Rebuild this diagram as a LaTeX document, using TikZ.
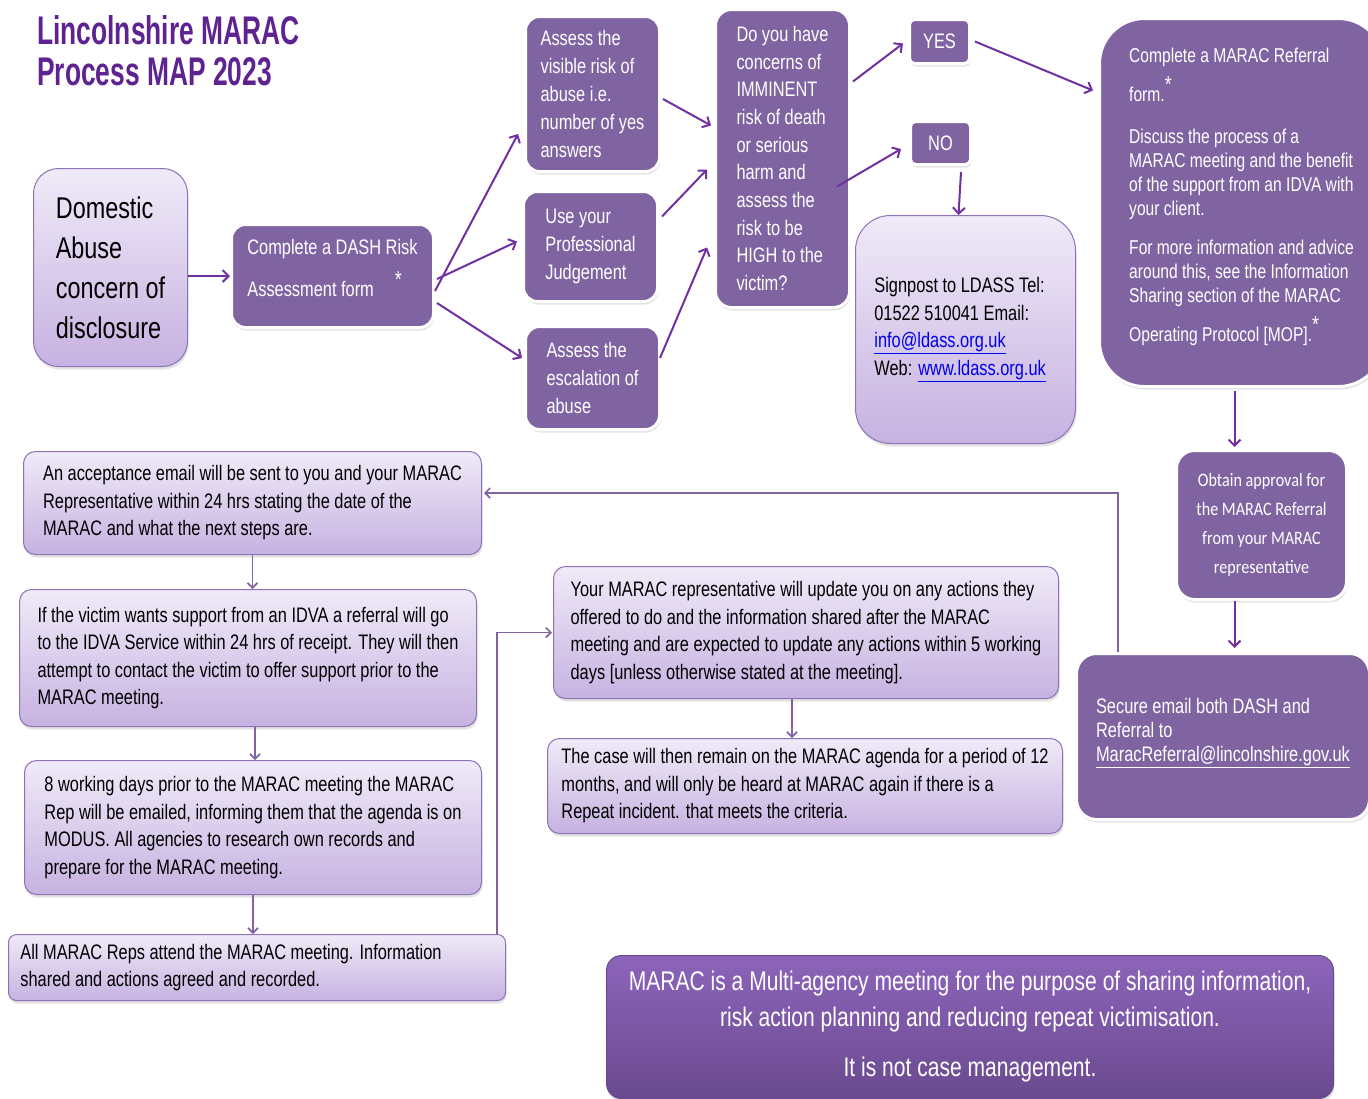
\documentclass[tikz,border=0pt]{standalone}
\usepackage{fontspec}
\setmainfont{Liberation Sans}[FakeStretch=0.78]
\newfontfamily\titlefont{Liberation Sans}[FakeStretch=0.66]
\newfontfamily\califont{Carlito}[FakeStretch=0.85]
\usetikzlibrary{arrows.meta,calc,shadows}

\definecolor{boxpurple}{HTML}{8064A2}
\definecolor{arrowpurple}{HTML}{7030A0}
\definecolor{titlepurple}{HTML}{5E2390}
\definecolor{lightline}{HTML}{8D72B5}
\definecolor{lighttop}{HTML}{F0EAF8}
\definecolor{lightbot}{HTML}{C6B2E1}
\definecolor{noteTop}{HTML}{8C64BA}
\definecolor{noteBot}{HTML}{6A4A8F}
\definecolor{linkblue}{HTML}{0000EE}

\newcommand{\bigstar}{\raisebox{9pt}[0pt][0pt]{\fontsize{23}{23}\selectfont *}}

\tikzset{
  darkbox/.style={draw=white, line width=3pt, fill=boxpurple, text=white,
    rounded corners=14pt, inner sep=0pt, align=left, anchor=north west,
    font=\fontsize{21}{28}\selectfont,
    drop shadow={opacity=0.22, shadow xshift=1pt, shadow yshift=-3pt}},
  lightbox/.style={draw=lightline, line width=1pt, top color=lighttop, bottom color=lightbot,
    text=black, rounded corners=12pt, inner sep=0pt, align=left, anchor=north west,
    font=\fontsize{21}{27.5}\selectfont,
    drop shadow={opacity=0.22, shadow xshift=1pt, shadow yshift=-3pt}},
  arr/.style={draw=arrowpurple, line width=2pt, -{Straight Barb[length=6pt,width=12pt]}},
  thinarr/.style={draw=boxpurple, line width=1.7pt, -{Straight Barb[length=5pt,width=10pt]}},
}

\begin{document}
\begin{tikzpicture}[x=1pt, y=-1pt]
  \useasboundingbox (0,0) rectangle (1368,1098);

  % Title
  \node[anchor=north west, align=left, inner sep=0pt, text=titlepurple,
    font=\titlefont\bfseries\fontsize{40}{41}\selectfont] (title) at (37,15)
    {Lincolnshire MARAC\\Process MAP 2023};

  % Top row
  \node[lightbox, rounded corners=25pt, minimum width=154, minimum height=198,
    font=\fontsize{30}{40}\selectfont] (dom) at (33,168)
    {Domestic\\Abuse\\concern of\hspace*{14pt}\\disclosure};
  \node[darkbox, minimum width=202, minimum height=103] (dash) at (230,223)
    {Complete a DASH Risk\\[14pt]Assessment form\quad\bigstar\\[-12pt]\mbox{}};
  \node[darkbox, minimum width=134, minimum height=155] (visible) at (524,15)
    {Assess the\\visible risk of\\abuse i.e.\\number of yes\\answers};
  \node[darkbox, minimum width=134, minimum height=110] (prof) at (522,190)
    {Use your\\Professional\\Judgement};
  \node[darkbox, minimum width=134, minimum height=103] (esc) at (524,325)
    {Assess the\\escalation of\\abuse};
  \node[darkbox, rounded corners=16pt, minimum width=134, minimum height=298,
    font=\fontsize{21}{27.7}\selectfont] (q) at (714,8)
    {Do you have\\concerns of\\IMMINENT\\risk of death\\or serious\\harm and\\assess the\\risk to be\\HIGH to the\\victim?};
  \node[darkbox, rounded corners=5pt, minimum width=60, minimum height=44] (yes) at (908,18) {YES};
  \node[darkbox, rounded corners=5pt, minimum width=60, minimum height=43] (no) at (909,120) {NO};
  \node[lightbox, rounded corners=35pt, minimum width=220, minimum height=228] (sign) at (855,215)
    {Signpost to LDASS Tel:\hspace*{12pt}\\01522 510041 Email:\\\textcolor{linkblue}{\underline{info@ldass.org.uk}}\\Web: \textcolor{linkblue}{\underline{www.ldass.org.uk}}};
  \node[darkbox, rounded corners=45pt, minimum width=284, minimum height=368,
    font=\fontsize{20}{24}\selectfont] (ref) at (1098,17)
    {Complete a MARAC Referral\\[15pt]
     form.\bigstar\\[18pt]
     Discuss the process of a\\
     MARAC meeting and the benefit\\
     of the support from an IDVA with\\
     your client.\\[15pt]
     For more information and advice\\
     around this, see the Information\\
     Sharing section of the MARAC\\[15pt]
     Operating Protocol [MOP].\bigstar\\[-8pt]\mbox{}};

  % Right column
  \node[darkbox, rounded corners=18pt, minimum width=170, minimum height=149, align=center,
    font=\califont\fontsize{19}{29}\selectfont] (obt) at (1175,449)
    {Obtain approval for\\the MARAC Referral\\from your MARAC\\representative};
  \node[darkbox, rounded corners=20pt, minimum width=293, minimum height=166,
    font=\fontsize{21}{24}\selectfont] (sec) at (1075,652)
    {Secure email both DASH and\\Referral to\\\underline{MaracReferral@lincolnshire.gov.uk}\\[-10pt]\mbox{}};

  % Left column
  \node[lightbox, minimum width=458, minimum height=103] (acc) at (23,451)
    {An acceptance email will be sent to you and your MARAC\\Representative within 24 hrs stating the date of the\\MARAC and what the next steps are.};
  \node[lightbox, minimum width=457, minimum height=137] (vic) at (19,589)
    {If the victim wants support from an IDVA a referral will go\\to the IDVA Service within 24 hrs of receipt. They will then\\attempt to contact the victim to offer support prior to the\\MARAC meeting.};
  \node[lightbox, minimum width=457, minimum height=134] (eight) at (24,760)
    {8 working days prior to the MARAC meeting the MARAC\\Rep will be emailed, informing them that the agenda is on\\MODUS. All agencies to research own records and\\prepare for the MARAC meeting.};
  \node[lightbox, rounded corners=8pt, minimum width=497, minimum height=66] (all) at (8,934)
    {All MARAC Reps attend the MARAC meeting. Information\hspace*{52pt}\\shared and actions agreed and recorded.};

  % Middle column
  \node[lightbox, minimum width=505, minimum height=132] (upd) at (553,566)
    {Your MARAC representative will update you on any actions they\\offered to do and the information shared after the MARAC\\meeting and are expected to update any actions within 5 working\\days [unless otherwise stated at the meeting].};
  \node[lightbox, minimum width=515, minimum height=95] (case) at (547,738)
    {The case will then remain on the MARAC agenda for a period of 12\\months, and will only be heard at MARAC again if there is a\\Repeat incident. that meets the criteria.};

  % Note
  \node[draw=noteBot, line width=1pt, top color=noteTop, bottom color=noteBot, text=white,
    rounded corners=15pt, inner sep=0pt, align=center, anchor=north west,
    minimum width=727, minimum height=143, font=\fontsize{27}{36}\selectfont,
    drop shadow={opacity=0.22, shadow xshift=1pt, shadow yshift=-3pt}] (note) at (606,955)
    {MARAC is a Multi-agency meeting for the purpose of sharing information,\\
     risk action planning and reducing repeat victimisation.\\[14pt]
     It is not case management.};

  % Arrows, top part
  \draw[arr] (dom.east |- dash.west) -- (dash.west);
  \draw[arr] ($(dash.east)+(0,15)$) -- ($(visible.west)+(-6,40)$);
  \draw[arr] ($(dash.east)+(2,3)$) -- ($(prof.west)+(-5,-5)$);
  \draw[arr] ($(dash.east)+(2,27)$) -- ($(esc.west)+(-2,-20)$);
  \draw[arr] ($(visible.east)+(2,5)$) -- ($(q.west)+(-3,-33)$);
  \draw[arr] ($(prof.east)+(3,-30)$) -- ($(q.west)+(-7,11)$);
  \draw[arr] ($(esc.east)+(-1,-20)$) -- ($(q.west)+(-7,89)$);
  \draw[arr] ($(q.east)+(2,-77)$) -- ($(yes.west)+(-5,2)$);
  \draw[arr] ($(q.east)+(-14,28)$) -- ($(no.west)+(-8,6)$);
  \draw[arr] ($(yes.east)+(4,0)$) -- ($(ref.west)+(-5,-112)$);
  \draw[arr] ($(no.south east)+(-11,6)$) -- ($(sign.north)+(-7,0)$);
  \draw[arr] ($(ref.south)+(-7,3)$) -- ($(obt.north)+(-27,-2)$);
  \draw[arr] ($(obt.south)+(-27,0)$) -- ($(sec.north)+(11.5,-4)$);

  % Arrows, lower part
  \draw[thinarr] ($(sec.north west)+(43,0)$) |- ($(acc.east)+(2,-10)$);
  \draw[thinarr] (acc.south) -- (acc.south |- vic.north);
  \draw[thinarr] ($(vic.south)+(7,0)$) -- ($(eight.north)+(2,0)$);
  \draw[thinarr] (eight.south) -- (eight.south |- all.north);
  \draw[thinarr] ($(all.north east)+(-9,0)$) |- ($(upd.west)+(-1,0)$);
  \draw[thinarr] ($(upd.south)+(-14,0)$) -- ($(case.north)+(-13,0)$);
\end{tikzpicture}
\end{document}
